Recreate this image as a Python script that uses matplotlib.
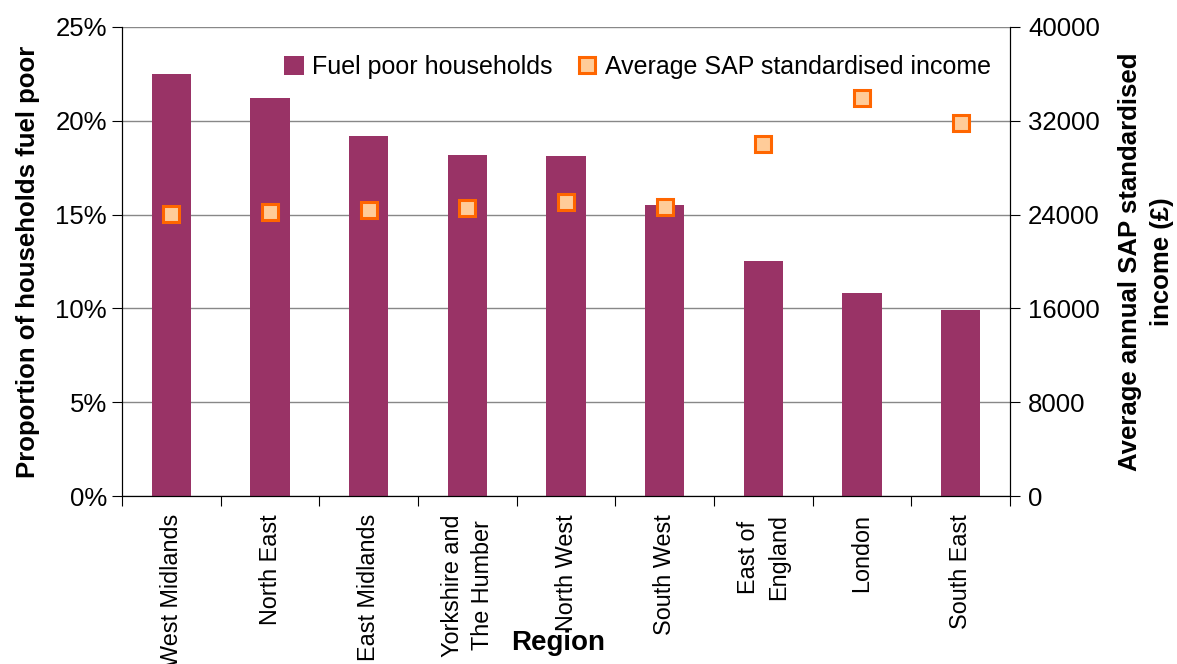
import matplotlib
matplotlib.use("Agg")
import matplotlib.pyplot as plt
from matplotlib.lines import Line2D
from matplotlib.patches import Patch

plt.rcParams["font.family"] = ["Liberation Sans", "DejaVu Sans"]

# Datos
regiones = ["West Midlands", "North East", "East Midlands", "Yorkshire and\nThe Humber",
            "North West", "South West", "East of\nEngland", "London", "South East"]
fuel_poor = [0.225, 0.212, 0.192, 0.182, 0.181, 0.155, 0.125, 0.108, 0.099]
ingreso = [24050, 24200, 24400, 24550, 25050, 24650, 30000, 33950, 31800]

fig = plt.figure(figsize=(11.77, 6.64), dpi=100)
ax = fig.add_axes([0.1037, 0.253, 0.7544, 0.7064])
ax2 = ax.twinx()

x = range(len(regiones))
ax.bar(x, fuel_poor, width=0.4, color="#993366", zorder=2)
ax2.plot(x, ingreso, linestyle="none", marker="s", markersize=12,
         markerfacecolor="#FFCC99", markeredgecolor="#FF6600", markeredgewidth=2.2, zorder=3)

ax.set_xlim(-0.5, len(regiones) - 0.5)
ax.set_ylim(0, 0.25)
ax.set_yticks([0, 0.05, 0.10, 0.15, 0.20, 0.25])
ax.set_yticklabels(["0%", "5%", "10%", "15%", "20%", "25%"], fontsize=18.5)
ax2.set_ylim(0, 40000)
ax2.set_yticks([0, 8000, 16000, 24000, 32000, 40000])
ax2.set_yticklabels(["0", "8000", "16000", "24000", "32000", "40000"], fontsize=18.5)

ax.yaxis.grid(True, color="#888888", linewidth=1)
ax.set_axisbelow(True)

# Ticks del eje x entre categorías
ax.set_xticks([i - 0.5 for i in range(len(regiones) + 1)], minor=False)
ax.set_xticklabels([])
ax.set_xticks(list(x), minor=True)
ax.set_xticklabels(regiones, minor=True, rotation=90, fontsize=16.8,
                   va="top", ha="center", multialignment="center")
for lbl in ax.get_xticklabels(minor=True):
    lbl.set_linespacing(1.4)
ax.tick_params(axis="x", which="minor", length=0, pad=13)
ax.tick_params(axis="x", which="major", length=7, direction="out")
ax.tick_params(axis="y", length=7, direction="out", pad=4)
ax2.tick_params(axis="y", length=7, direction="out", pad=6)

for a in (ax, ax2):
    a.spines["top"].set_visible(False)
    for s in ("left", "right", "bottom"):
        a.spines[s].set_color("black")

ax.set_ylabel("Proportion of households fuel poor", fontsize=18.5, fontweight="bold", labelpad=11)
ax2.set_ylabel("Average annual SAP standardised\nincome (£)", fontsize=18.5, fontweight="bold",
               rotation=90, labelpad=13, linespacing=1.4)
fig.text(0.474, 0.0316, "Region", fontsize=20, fontweight="bold", ha="center", va="center")

handles = [Patch(facecolor="#993366", edgecolor="none"),
           Line2D([], [], linestyle="none", marker="s", markersize=12,
                  markerfacecolor="#FFCC99", markeredgecolor="#FF6600", markeredgewidth=2.2)]
ax.legend(handles, ["Fuel poor households", "Average SAP standardised income"],
          loc="upper right", bbox_to_anchor=(0.995, 0.972), ncol=2, frameon=False,
          fontsize=18, handlelength=0.8, handleheight=0.8, handletextpad=0.3,
          columnspacing=1.0, borderaxespad=0.2)

fig.savefig("out.png", dpi=100)
